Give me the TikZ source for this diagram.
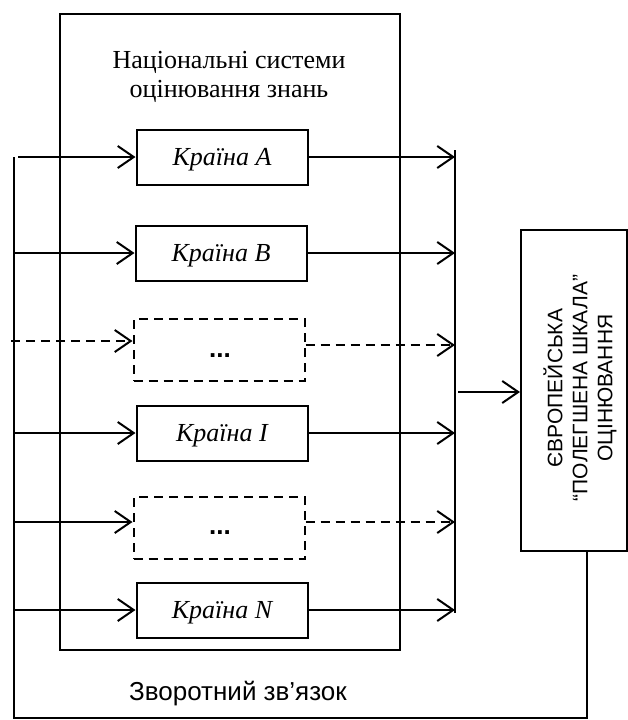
\documentclass[tikz,border=0pt]{standalone}
\usepackage{fontspec}
\setmainfont{Liberation Serif}
\setsansfont{Liberation Sans}
\usetikzlibrary{arrows.meta}
\begin{document}
\begin{tikzpicture}[x=1pt,y=-1pt,
  line width=2pt,
  arr/.style={-{Straight Barb[length=16pt,width=22pt,line width=2pt]}},
  country/.style={draw,minimum width=171pt,minimum height=55pt,inner sep=0pt,
    text depth=0pt,font=\fontsize{26}{30}\selectfont\itshape},
  gap/.style={draw,dashed,dash pattern=on 9pt off 6pt,minimum width=171pt,minimum height=62pt,inner sep=0pt},
  dashline/.style={dashed,dash pattern=on 9pt off 6pt},
  dotsfont/.style={anchor=base,inner sep=0pt,font=\sffamily\bfseries\fontsize{26}{28}\selectfont}
]
\useasboundingbox (0,0) rectangle (628,720);

% national systems frame and its title
\node[draw,minimum width=340pt,minimum height=636pt,inner sep=0pt,anchor=north west] (nat) at (59,13) {};
\node[align=center,font=\fontsize{26}{29}\selectfont] (title) at (229,77)
  {Національні системи\\оцінювання знань};

% country boxes
\node[country] (ca) at (222,157) {Країна \textit{A}};
\node[country] (cb) at (221,253) {Країна \textit{B}};
\node[gap] (g1) at (219,350) {};
\node[dotsfont] (d1) at (220,357) {...};
\node[country] (ci) at (222,433) {Країна \textit{I}};
\node[gap] (g2) at (219,528) {};
\node[dotsfont] (d2) at (220,534) {...};
\node[country] (cn) at (222,610) {Країна \textit{N}};

% European scale box
\node[draw,minimum width=106pt,minimum height=321pt,inner sep=0pt] (eur) at (574,390.5) {};
\node[rotate=90,align=center,font=\sffamily\fontsize{21}{25}\selectfont] (eurtext) at (580,388)
  {ЄВРОПЕЙСЬКА\\“ПОЛЕГШЕНА ШКАЛА”\\ОЦІНЮВАННЯ};

% collecting bus
\coordinate (busT) at (455,150);
\coordinate (busB) at (455,613);
\draw (busT) -- (busB);
\coordinate (busOut) at (458,392);
\draw[arr] (busOut) -- (busOut -| eur.west);

% feedback loop
\coordinate (fbTop) at (14,157);
\coordinate (fbBL) at (14,718);
\coordinate (fbBR) at (587,718);
\draw (fbBR |- eur.south) -- (fbBR) -- (fbBL) -- (fbTop);
\node[font=\sffamily\fontsize{26}{30}\selectfont] (fbl) at (238,694) {Зворотний зв’язок};

% inputs
\draw[arr] (fbTop -| 18,0) -- (ca.west);
\draw[arr] (fbTop |- cb.west) -- (cb.west);
\draw[arr,dashline] (11,341) -- (g1.west |- 0,341);
\draw[arr] (fbTop |- ci.west) -- (ci.west);
\draw[arr] (fbTop |- 0,522) -- (g2.west |- 0,522);
\draw[arr] (fbTop |- cn.west) -- (cn.west);

% outputs to the bus
\draw[arr] (ca.east) -- (ca.east -| busT);
\draw[arr] (cb.east) -- (cb.east -| busT);
\draw[arr,dashline] (g1.east |- 0,345) -- (busT |- 0,345);
\draw[arr] (ci.east) -- (ci.east -| busT);
\draw[arr,dashline] (g2.east |- 0,522) -- (busT |- 0,522);
\draw[arr] (cn.east) -- (cn.east -| busT);
\end{tikzpicture}
\end{document}
